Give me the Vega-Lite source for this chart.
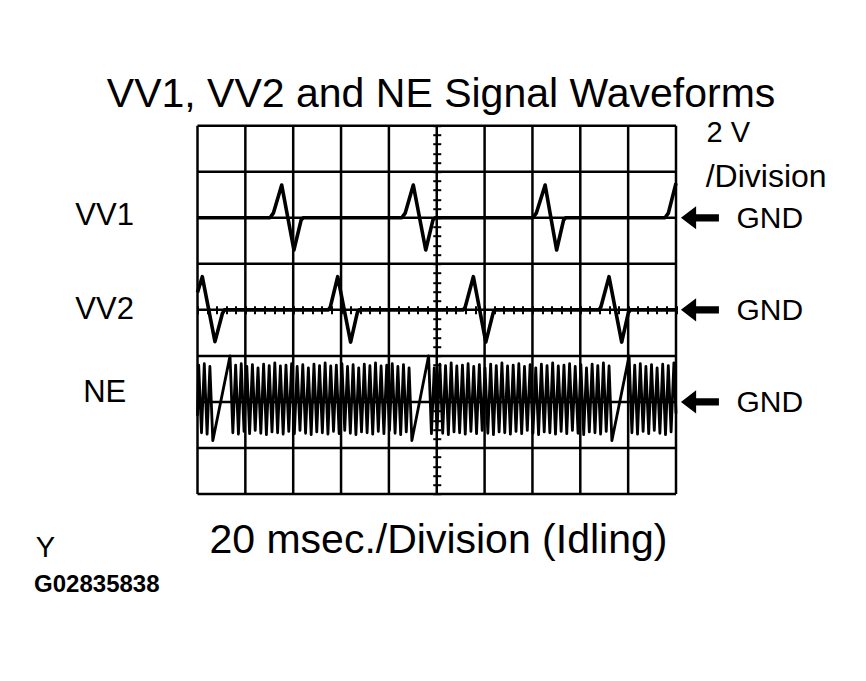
{
  "$schema": "https://vega.github.io/schema/vega-lite/v6.json",
  "width": 478.5,
  "height": 368.3,
  "autosize": {"type": "none"},
  "padding": {"left": 197.5, "top": 125.7, "right": 190, "bottom": 187},
  "background": "white",
  "config": {"view": {"stroke": null}, "text": {"font": "Liberation Sans", "color": "black"}},
  "datasets": {
    "gridX": [{"t":0},{"t":20},{"t":40},{"t":60},{"t":80},{"t":100},{"t":120},{"t":140},{"t":160},{"t":180},{"t":200}],
    "gridY": [{"v":-4},{"v":-3},{"v":-2},{"v":-1},{"v":0},{"v":1},{"v":2},{"v":3},{"v":4}],
    "channels": [{"ch":"VV1","gnd":2,"lv":1.843},{"ch":"VV2","gnd":0,"lv":-0.2},{"ch":"NE","gnd":-2,"lv":-2.0}],
    "vv1": [
      {"t":0,"v":2.0},{"t":30.3,"v":2.0},{"t":31.7,"v":2.1},{"t":35.2,"v":2.71},{"t":40.3,"v":1.3},{"t":43.3,"v":1.95},{"t":44.2,"v":2.0},
      {"t":85.4,"v":2.0},{"t":86.8,"v":2.1},{"t":90.2,"v":2.71},{"t":95.4,"v":1.3},{"t":98.4,"v":1.95},{"t":99.3,"v":2.0},
      {"t":140.2,"v":2.0},{"t":141.6,"v":2.1},{"t":145.3,"v":2.71},{"t":150.1,"v":1.3},{"t":153.0,"v":1.95},{"t":153.9,"v":2.0},
      {"t":195.4,"v":2.0},{"t":196.8,"v":2.1},{"t":200,"v":2.75}
    ],
    "vv2": [
      {"t":0,"v":0.38},{"t":2.0,"v":0.72},{"t":7.3,"v":-0.69},{"t":10.4,"v":-0.08},{"t":11.3,"v":0},
      {"t":54.7,"v":0},{"t":55.5,"v":0.06},{"t":58.6,"v":0.72},{"t":64.0,"v":-0.7},{"t":66.8,"v":-0.06},{"t":67.6,"v":0},
      {"t":111.1,"v":0},{"t":111.9,"v":0.06},{"t":115.3,"v":0.72},{"t":120.5,"v":-0.7},{"t":123.6,"v":-0.06},{"t":124.4,"v":0},
      {"t":167.8,"v":0},{"t":168.6,"v":0.06},{"t":172.0,"v":0.72},{"t":177.3,"v":-0.7},{"t":180.1,"v":-0.06},{"t":180.9,"v":0},{"t":200,"v":0}
    ],
    "ne": [
      {"t":0.00,"v":-2.30},{"t":0.50,"v":-1.20},{"t":1.67,"v":-2.67},{"t":2.84,"v":-1.17},{"t":4.01,"v":-2.70},{"t":5.18,"v":-1.23},{"t":6.40,"v":-2.84},
      {"t":13.60,"v":-1.0},
      {"t":14.77,"v":-2.67},{"t":15.94,"v":-1.20},{"t":17.11,"v":-2.70},{"t":18.28,"v":-1.17},{"t":19.45,"v":-2.64},{"t":20.62,"v":-1.23},
      {"t":21.78,"v":-2.69},{"t":22.95,"v":-1.19},{"t":24.12,"v":-2.62},{"t":25.29,"v":-1.26},{"t":26.46,"v":-2.68},{"t":27.63,"v":-1.18},
      {"t":28.80,"v":-2.71},{"t":29.97,"v":-1.21},{"t":31.14,"v":-2.65},{"t":32.31,"v":-1.15},{"t":33.48,"v":-2.67},{"t":34.65,"v":-1.22},
      {"t":35.81,"v":-2.70},{"t":36.98,"v":-1.20},{"t":38.15,"v":-2.64},{"t":39.32,"v":-1.17},{"t":40.49,"v":-2.69},{"t":41.66,"v":-1.23},
      {"t":42.83,"v":-2.62},{"t":44.00,"v":-1.19},{"t":45.17,"v":-2.68},{"t":46.34,"v":-1.26},{"t":47.51,"v":-2.71},{"t":48.68,"v":-1.18},
      {"t":49.85,"v":-2.65},{"t":51.01,"v":-1.21},{"t":52.18,"v":-2.67},{"t":53.35,"v":-1.15},{"t":54.52,"v":-2.70},{"t":55.69,"v":-1.22},
      {"t":56.86,"v":-2.64},{"t":58.03,"v":-1.20},{"t":59.20,"v":-2.69},{"t":60.37,"v":-1.17},{"t":61.54,"v":-2.62},{"t":62.71,"v":-1.23},
      {"t":63.88,"v":-2.68},{"t":65.04,"v":-1.19},{"t":66.21,"v":-2.71},{"t":67.38,"v":-1.26},{"t":68.55,"v":-2.65},{"t":69.72,"v":-1.18},
      {"t":70.89,"v":-2.67},{"t":72.06,"v":-1.21},{"t":73.23,"v":-2.70},{"t":74.40,"v":-1.15},{"t":75.57,"v":-2.64},{"t":76.74,"v":-1.22},
      {"t":77.91,"v":-2.69},{"t":79.08,"v":-1.20},{"t":80.24,"v":-2.62},{"t":81.41,"v":-1.17},{"t":82.58,"v":-2.68},{"t":83.75,"v":-1.23},
      {"t":84.92,"v":-2.71},{"t":86.09,"v":-1.19},{"t":87.26,"v":-2.65},{"t":88.43,"v":-1.26},{"t":89.60,"v":-2.84},
      {"t":96.60,"v":-1.0},
      {"t":97.78,"v":-2.69},{"t":98.96,"v":-1.26},{"t":100.14,"v":-2.62},{"t":101.31,"v":-1.18},{"t":102.49,"v":-2.68},{"t":103.67,"v":-1.21},
      {"t":104.85,"v":-2.71},{"t":106.03,"v":-1.15},{"t":107.21,"v":-2.65},{"t":108.38,"v":-1.22},{"t":109.56,"v":-2.67},{"t":110.74,"v":-1.20},
      {"t":111.92,"v":-2.70},{"t":113.10,"v":-1.17},{"t":114.28,"v":-2.64},{"t":115.46,"v":-1.23},{"t":116.63,"v":-2.69},{"t":117.81,"v":-1.19},
      {"t":118.99,"v":-2.62},{"t":120.17,"v":-1.26},{"t":121.35,"v":-2.68},{"t":122.53,"v":-1.18},{"t":123.70,"v":-2.71},{"t":124.88,"v":-1.21},
      {"t":126.06,"v":-2.65},{"t":127.24,"v":-1.15},{"t":128.42,"v":-2.67},{"t":129.60,"v":-1.22},{"t":130.78,"v":-2.70},{"t":131.95,"v":-1.20},
      {"t":133.13,"v":-2.64},{"t":134.31,"v":-1.17},{"t":135.49,"v":-2.69},{"t":136.67,"v":-1.23},{"t":137.85,"v":-2.62},{"t":139.02,"v":-1.19},
      {"t":140.20,"v":-2.68},{"t":141.38,"v":-1.26},{"t":142.56,"v":-2.71},{"t":143.74,"v":-1.18},{"t":144.92,"v":-2.65},{"t":146.10,"v":-1.21},
      {"t":147.27,"v":-2.67},{"t":148.45,"v":-1.15},{"t":149.63,"v":-2.70},{"t":150.81,"v":-1.22},{"t":151.99,"v":-2.64},{"t":153.17,"v":-1.20},
      {"t":154.34,"v":-2.69},{"t":155.52,"v":-1.17},{"t":156.70,"v":-2.62},{"t":157.88,"v":-1.23},{"t":159.06,"v":-2.68},{"t":160.24,"v":-1.19},
      {"t":161.42,"v":-2.71},{"t":162.59,"v":-1.26},{"t":163.77,"v":-2.65},{"t":164.95,"v":-1.18},{"t":166.13,"v":-2.67},{"t":167.31,"v":-1.21},
      {"t":168.49,"v":-2.70},{"t":169.66,"v":-1.15},{"t":170.84,"v":-2.64},{"t":172.02,"v":-1.22},{"t":173.20,"v":-2.84},
      {"t":180.40,"v":-1.0},
      {"t":181.57,"v":-2.67},{"t":182.74,"v":-1.20},{"t":183.91,"v":-2.70},{"t":185.08,"v":-1.17},{"t":186.25,"v":-2.64},{"t":187.42,"v":-1.23},
      {"t":188.59,"v":-2.69},{"t":189.76,"v":-1.19},{"t":190.93,"v":-2.62},{"t":192.10,"v":-1.26},{"t":193.27,"v":-2.68},{"t":194.44,"v":-1.18},
      {"t":195.61,"v":-2.71},{"t":196.78,"v":-1.21},{"t":197.95,"v":-2.65},{"t":199.12,"v":-1.15},{"t":200.00,"v":-2.25}
    ]
  },
  "layer": [
    {
      "data": {"name": "gridX"},
      "mark": {"type": "rule", "color": "black", "strokeWidth": 2.5},
      "encoding": {
        "x": {"field": "t", "type": "quantitative", "scale": {"domain": [0, 200], "nice": false, "zero": false},
          "axis": {"orient": "bottom", "offset": -184.15, "values": [0,4,8,12,16,20,24,28,32,36,40,44,48,52,56,60,64,68,72,76,80,84,88,92,96,100,104,108,112,116,120,124,128,132,136,140,144,148,152,156,160,164,168,172,176,180,184,188,192,196,200],
            "ticks": true, "tickSize": 4, "tickWidth": 2, "tickColor": "black", "labels": false, "domain": false, "grid": false, "title": null}}
      }
    },
    {
      "data": {"name": "gridY"},
      "mark": {"type": "rule", "color": "black", "strokeWidth": 2.5},
      "encoding": {
        "y": {"field": "v", "type": "quantitative", "scale": {"domain": [-4, 4], "nice": false, "zero": false},
          "axis": {"orient": "left", "offset": -239.25, "values": [-4,-3.8,-3.6,-3.4,-3.2,-3,-2.8,-2.6,-2.4,-2.2,-2,-1.8,-1.6,-1.4,-1.2,-1,-0.8,-0.6,-0.4,-0.2,0,0.2,0.4,0.6,0.8,1,1.2,1.4,1.6,1.8,2,2.2,2.4,2.6,2.8,3,3.2,3.4,3.6,3.8,4],
            "ticks": true, "tickSize": 4, "tickWidth": 2, "tickColor": "black", "labels": false, "domain": false, "grid": false, "title": null}}
      }
    },
    {
      "data": {"name": "vv1"},
      "mark": {"type": "line", "color": "black", "strokeWidth": 3.6, "strokeJoin": "round", "clip": false},
      "encoding": {
        "x": {"field": "t", "type": "quantitative", "scale": {"domain": [0, 200], "nice": false, "zero": false},
          "axis": {"orient": "top", "offset": -184.15, "values": [0,4,8,12,16,20,24,28,32,36,40,44,48,52,56,60,64,68,72,76,80,84,88,92,96,100,104,108,112,116,120,124,128,132,136,140,144,148,152,156,160,164,168,172,176,180,184,188,192,196,200],
            "ticks": true, "tickSize": 4, "tickWidth": 2, "tickColor": "black", "labels": false, "domain": false, "grid": false, "title": null}},
        "y": {"field": "v", "type": "quantitative", "scale": {"domain": [-4, 4], "nice": false, "zero": false},
          "axis": {"orient": "right", "offset": -239.25, "values": [-4,-3.8,-3.6,-3.4,-3.2,-3,-2.8,-2.6,-2.4,-2.2,-2,-1.8,-1.6,-1.4,-1.2,-1,-0.8,-0.6,-0.4,-0.2,0,0.2,0.4,0.6,0.8,1,1.2,1.4,1.6,1.8,2,2.2,2.4,2.6,2.8,3,3.2,3.4,3.6,3.8,4],
            "ticks": true, "tickSize": 4, "tickWidth": 2, "tickColor": "black", "labels": false, "domain": false, "grid": false, "title": null}}
      }
    },
    {
      "data": {"name": "vv2"},
      "mark": {"type": "line", "color": "black", "strokeWidth": 3.6, "strokeJoin": "round"},
      "encoding": {
        "x": {"field": "t", "type": "quantitative", "scale": {"domain": [0, 200], "nice": false, "zero": false}, "axis": null},
        "y": {"field": "v", "type": "quantitative", "scale": {"domain": [-4, 4], "nice": false, "zero": false}, "axis": null}
      }
    },
    {
      "data": {"name": "ne"},
      "mark": {"type": "line", "color": "black", "strokeWidth": 2.8, "strokeJoin": "round"},
      "encoding": {
        "x": {"field": "t", "type": "quantitative", "scale": {"domain": [0, 200], "nice": false, "zero": false}, "axis": null},
        "y": {"field": "v", "type": "quantitative", "scale": {"domain": [-4, 4], "nice": false, "zero": false}, "axis": null}
      }
    },
    {
      "data": {"name": "channels"},
      "mark": {"type": "text", "fontSize": 31, "align": "center", "baseline": "alphabetic"},
      "encoding": {
        "x": {"datum": -38.8, "type": "quantitative", "scale": {"domain": [0, 200], "nice": false, "zero": false}, "axis": null},
        "y": {"field": "lv", "type": "quantitative", "scale": {"domain": [-4, 4], "nice": false, "zero": false}, "axis": null},
        "text": {"field": "ch"}
      }
    },
    {
      "data": {"name": "channels"},
      "mark": {"type": "point", "shape": "M-1,0L-0.2,-0.61L-0.2,-0.19L1,-0.19L1,0.19L-0.2,0.19L-0.2,0.61Z", "size": 1444, "filled": true, "color": "black", "opacity": 1, "strokeWidth": 0},
      "encoding": {
        "x": {"datum": 210, "type": "quantitative", "scale": {"domain": [0, 200], "nice": false, "zero": false}, "axis": null},
        "y": {"field": "gnd", "type": "quantitative", "scale": {"domain": [-4, 4], "nice": false, "zero": false}, "axis": null}
      }
    },
    {
      "data": {"name": "channels"},
      "mark": {"type": "text", "fontSize": 30, "align": "left", "baseline": "alphabetic", "dy": 10.5},
      "encoding": {
        "x": {"datum": 225.3, "type": "quantitative", "scale": {"domain": [0, 200], "nice": false, "zero": false}, "axis": null},
        "y": {"field": "gnd", "type": "quantitative", "scale": {"domain": [-4, 4], "nice": false, "zero": false}, "axis": null},
        "text": {"value": "GND"}
      }
    },
    {
      "data": {"values": [{"label": "VV1, VV2 and NE Signal Waveforms"}]},
      "mark": {"type": "text", "fontSize": 41, "align": "center", "baseline": "alphabetic"},
      "encoding": {
        "x": {"datum": 101.8, "type": "quantitative", "scale": {"domain": [0, 200], "nice": false, "zero": false}, "axis": null},
        "y": {"datum": 4.406, "type": "quantitative", "scale": {"domain": [-4, 4], "nice": false, "zero": false}, "axis": null},
        "text": {"field": "label"}
      }
    },
    {
      "data": {"values": [{"label": "20 msec./Division (Idling)"}]},
      "mark": {"type": "text", "fontSize": 41, "align": "center", "baseline": "alphabetic"},
      "encoding": {
        "x": {"datum": 100.7, "type": "quantitative", "scale": {"domain": [0, 200], "nice": false, "zero": false}, "axis": null},
        "y": {"datum": -5.275, "type": "quantitative", "scale": {"domain": [-4, 4], "nice": false, "zero": false}, "axis": null},
        "text": {"field": "label"}
      }
    },
    {
      "data": {"values": [{"label": "2 V"}]},
      "mark": {"type": "text", "fontSize": 29, "align": "left", "baseline": "alphabetic"},
      "encoding": {
        "x": {"datum": 212.8, "type": "quantitative", "scale": {"domain": [0, 200], "nice": false, "zero": false}, "axis": null},
        "y": {"datum": 3.652, "type": "quantitative", "scale": {"domain": [-4, 4], "nice": false, "zero": false}, "axis": null},
        "text": {"field": "label"}
      }
    },
    {
      "data": {"values": [{"label": "/Division"}]},
      "mark": {"type": "text", "fontSize": 32, "align": "left", "baseline": "alphabetic"},
      "encoding": {
        "x": {"datum": 212.4, "type": "quantitative", "scale": {"domain": [0, 200], "nice": false, "zero": false}, "axis": null},
        "y": {"datum": 2.675, "type": "quantitative", "scale": {"domain": [-4, 4], "nice": false, "zero": false}, "axis": null},
        "text": {"field": "label"}
      }
    },
    {
      "data": {"values": [{"label": "Y"}]},
      "mark": {"type": "text", "fontSize": 29, "align": "left", "baseline": "alphabetic"},
      "encoding": {
        "x": {"datum": -67.6, "type": "quantitative", "scale": {"domain": [0, 200], "nice": false, "zero": false}, "axis": null},
        "y": {"datum": -5.368, "type": "quantitative", "scale": {"domain": [-4, 4], "nice": false, "zero": false}, "axis": null},
        "text": {"field": "label"}
      }
    },
    {
      "data": {"values": [{"label": "G02835838"}]},
      "mark": {"type": "text", "fontSize": 24, "fontWeight": "bold", "align": "left", "baseline": "alphabetic"},
      "encoding": {
        "x": {"datum": -68.3, "type": "quantitative", "scale": {"domain": [0, 200], "nice": false, "zero": false}, "axis": null},
        "y": {"datum": -6.122, "type": "quantitative", "scale": {"domain": [-4, 4], "nice": false, "zero": false}, "axis": null},
        "text": {"field": "label"}
      }
    }
  ],
  "resolve": {"axis": {"x": "independent", "y": "independent"}}
}
